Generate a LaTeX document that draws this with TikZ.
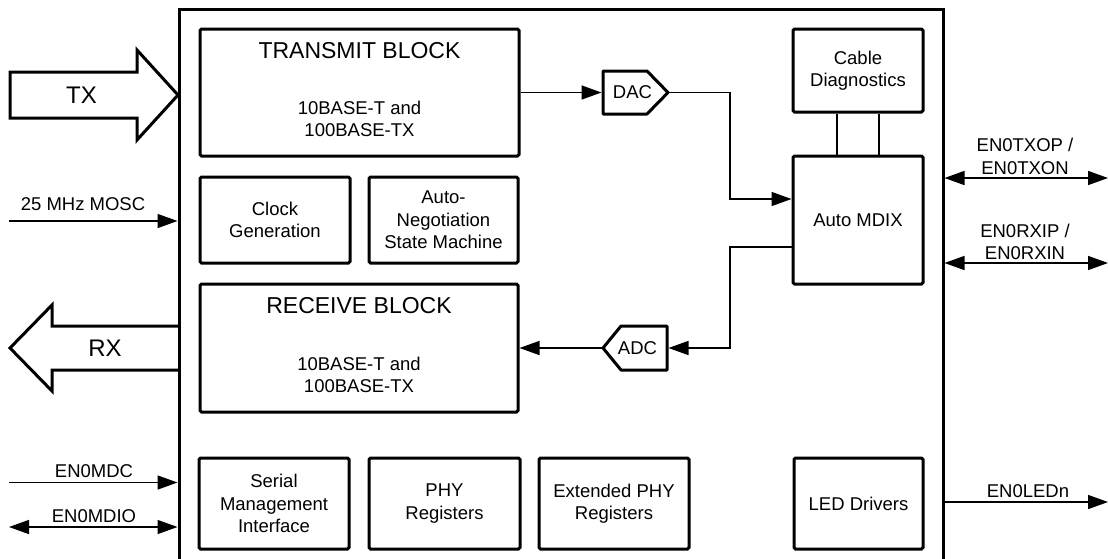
\documentclass[tikz,border=0pt]{standalone}
\usepackage{fontspec}
\setmainfont{Liberation Sans}
\usetikzlibrary{arrows.meta}
\begin{document}
\begin{tikzpicture}[x=1pt,y=-1pt,
  blk/.style={draw, line width=3pt, rounded corners=1.5pt, inner sep=0pt, align=center, font=\fontsize{18.5}{22.5}\selectfont},
  lbl/.style={font=\fontsize{18.5}{22.5}\selectfont, align=center, inner sep=0pt},
  big/.style={font=\fontsize{23}{27}\selectfont, inner sep=0pt},
  conn/.style={line width=1.5pt},
  tip/.style={-{Triangle[length=20pt,width=14pt]}},
  dtip/.style={{Triangle[length=20pt,width=14pt]}-{Triangle[length=20pt,width=14pt]}},
  fat/.style={draw, line width=3pt, line join=miter},
]
\useasboundingbox (0,0) rectangle (1108,558);
% main box (open at the bottom)
\draw[line width=3pt] (179,562) -- (179,9) -- (943,9) -- (943,562);
\coordinate (mainL) at (177.5,0);
\coordinate (mainR) at (944.5,0);

% blocks
\node[blk, minimum width=319, minimum height=127] (tx) at (359.5,92.5) {};
\node[big] (txt) at (359.5,51) {TRANSMIT BLOCK};
\node[lbl] (txs) at (359.5,119) {10BASE-T and\\100BASE-TX};

\node[blk, minimum width=150, minimum height=86] (clk) at (275,220) {Clock\\Generation};
\node[blk, minimum width=149, minimum height=86] (aneg) at (443.5,220) {Auto-\\Negotiation\\State Machine};

\node[blk, minimum width=318, minimum height=128] (rx) at (359,348) {};
\node[big] (rxt) at (359,306) {RECEIVE BLOCK};
\node[lbl] (rxs) at (359,375) {10BASE-T and\\100BASE-TX};

\node[blk, minimum width=150, minimum height=91] (smi) at (274,503.5) {Serial\\Management\\Interface};
\node[blk, minimum width=151, minimum height=91] (phy) at (444.5,503.5) {PHY\\Registers};
\node[blk, minimum width=150, minimum height=91] (ephy) at (614,503.5) {Extended PHY\\Registers};
\node[blk, minimum width=129, minimum height=91] (led) at (858.5,503.5) {LED Drivers};

\node[blk, minimum width=130, minimum height=83] (cable) at (858,70.5) {Cable\\Diagnostics};
\node[blk, minimum width=130, minimum height=128] (mdix) at (858,220) {Auto MDIX};

% DAC / ADC
\draw[fat, line join=round] (603,71) -- (647,71) -- (668,92.5) -- (647,114) -- (603,114) -- cycle;
\node[lbl] (dac) at (632.5,92.5) {DAC};
\coordinate (dacin) at (601.5,92.5);
\coordinate (dacout) at (668,92.5);

\draw[fat, line join=round] (667,326) -- (621,326) -- (603,348) -- (621,370) -- (667,370) -- cycle;
\node[lbl] (adc) at (637.5,348) {ADC};
\coordinate (adcin) at (668.5,348);
\coordinate (adcout) at (603,348);

% internal connectors
\draw[conn,tip] (tx.east |- dacin) -- (dacin);
\draw[conn,tip] (dacout) -| (730,199) -- (mdix.west |- 0,199);
\draw[conn,tip] (mdix.west |- 0,247) -| (730,348) -- (adcin);
\draw[conn,tip] (adcout) -- (rx.east |- adcout);
\draw[conn] (cable.south -| 837,0) -- (mdix.north -| 837,0);
\draw[conn] (cable.south -| 879,0) -- (mdix.north -| 879,0);

% big TX / RX arrows
\draw[fat] (10,72) -- (137,72) -- (137,50) -- (178,95) -- (137,140) -- (137,118) -- (10,118) -- cycle;
\node[big, font=\fontsize{24}{28}\selectfont] (txl) at (81.5,95) {TX};
\draw[fat] (178,326) -- (52,326) -- (52,305) -- (10,348) -- (52,391) -- (52,370) -- (178,370);
\node[big, font=\fontsize{24}{28}\selectfont] (rxl) at (105,348) {RX};

% external signals, left
\coordinate (mosc) at (9,221);
\draw[conn,tip] (mosc) -- (mainL |- mosc);
\node[lbl] (moscl) at (83,204) {25 MHz MOSC};
\coordinate (mdc) at (9,482.5);
\draw[conn,tip] (mdc) -- (mainL |- mdc);
\node[lbl] (mdcl) at (94,471) {EN0MDC};
\coordinate (mdio) at (9,527);
\draw[conn,dtip] (mdio) -- (mainL |- mdio);
\node[lbl] (mdiol) at (94,516) {EN0MDIO};

% external signals, right
\coordinate (txo) at (1108,178);
\draw[conn,dtip] (mainR |- txo) -- (txo);
\node[lbl] (txol) at (1025,156.5) {EN0TXOP /\\EN0TXON};
\coordinate (rxi) at (1108,263);
\draw[conn,dtip] (mainR |- rxi) -- (rxi);
\node[lbl] (rxil) at (1025,242) {EN0RXIP /\\EN0RXIN};
\coordinate (ledo) at (1108,502);
\draw[conn,tip] (mainR |- ledo) -- (ledo);
\node[lbl] (ledl) at (1028,491) {EN0LEDn};
\end{tikzpicture}
\end{document}
